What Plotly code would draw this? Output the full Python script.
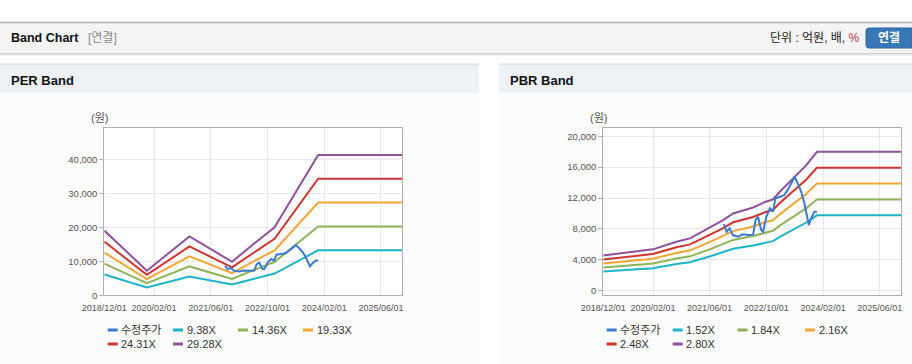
import plotly.graph_objects as go

W, H = 912, 364

def X(p):
    return p / W

def Y(p):
    return 1 - p / H

# ---------------- data ----------------
tick_dates = ["2018-12-01", "2020-02-01", "2021-06-01", "2022-10-01", "2024-02-01", "2025-06-01"]
tick_labels = ["2018/12/01", "2020/02/01", "2021/06/01", "2022/10/01", "2024/02/01", "2025/06/01"]

per_dates = ["2018-12-01", "2019-12-01", "2020-12-01", "2021-12-01", "2022-06-01",
             "2022-12-01", "2023-12-10", "2025-12-01"]
per_938 = [6097, 2317, 5544, 3161, 4803, 6407, 13226, 13226]
per_1436 = [9334, 3547, 8487, 4839, 7352, 9808, 20248, 20248]
per_1933 = [12565, 4775, 11424, 6514, 9897, 13202, 27255, 27255]
per_2431 = [15802, 6005, 14367, 8192, 12447, 16604, 34277, 34277]
per_2928 = [19032, 7232, 17304, 9867, 14991, 19998, 41285, 41285]

pbr_dates = ["2018-12-01", "2019-05-15", "2020-02-01", "2020-08-20", "2020-12-15",
             "2021-06-01", "2021-09-25", "2021-12-20", "2022-06-10", "2022-09-25",
             "2022-11-28", "2023-01-25", "2023-09-10", "2023-12-10", "2025-12-01"]
pbr_152 = [2476, 2622, 2905, 3441, 3675, 4425, 4961, 5428, 5852, 6249, 6411, 6954, 8827, 9760, 9760]
pbr_184 = [2997, 3174, 3516, 4166, 4449, 5356, 6006, 6571, 7084, 7564, 7761, 8418, 10685, 11815, 11815]
pbr_216 = [3519, 3726, 4128, 4890, 5223, 6288, 7050, 7713, 8316, 8880, 9111, 9882, 12543, 13869, 13869]
pbr_248 = [4040, 4278, 4739, 5615, 5997, 7219, 8095, 8856, 9548, 10195, 10461, 11346, 14401, 15924, 15924]
pbr_280 = [4561, 4830, 5351, 6339, 6770, 8151, 9139, 9999, 10780, 11511, 11810, 12810, 16260, 17979, 17979]

price_dates = ["2021-10-01", "2021-10-25", "2021-11-20", "2021-12-18", "2022-02-01",
               "2022-03-12", "2022-05-10", "2022-06-10", "2022-07-01", "2022-07-22",
               "2022-08-18", "2022-09-03", "2022-10-01", "2022-11-01", "2022-11-28",
               "2022-12-18", "2023-01-25", "2023-03-05", "2023-04-18", "2023-06-01",
               "2023-06-28", "2023-07-28", "2023-08-25", "2023-09-15", "2023-10-01",
               "2023-10-18", "2023-11-18", "2023-12-10"]
price_vals = [8630, 7630, 8070, 7200, 6990, 7300, 7200, 7250, 9150, 9570,
              7850, 7630, 9570, 10660, 10230, 11950, 12170, 12380, 13450, 14750,
              13890, 12810, 11300, 9570, 8500, 9250, 10220, 10220]

per_names = ["9.38X", "14.36X", "19.33X", "24.31X", "29.28X"]
pbr_names = ["1.52X", "1.84X", "2.16X", "2.48X", "2.80X"]
price_name = "수정주가"

per_ticks = [0, 10000, 20000, 30000, 40000]
per_tick_text = ["0", "10,000", "20,000", "30,000", "40,000"]
pbr_ticks = [0, 4000, 8000, 12000, 16000, 20000]
pbr_tick_text = ["0", "4,000", "8,000", "12,000", "16,000", "20,000"]

# ---------------- style ----------------
C_PRICE = "#3b7ad0"
BAND_COLORS = ["#1db4c9", "#8db458", "#f3a535", "#cf3431", "#8f519e"]
FONT = "Liberation Sans, Noto Sans CJK KR, sans-serif"
GRID = "#e8e8e8"
BOX = "#b0b0b0"

fig = go.Figure()

for vals, name, col in zip([per_938, per_1436, per_1933, per_2431, per_2928], per_names, BAND_COLORS):
    fig.add_trace(go.Scatter(x=per_dates, y=vals, name=name, mode="lines",
                             line=dict(color=col, width=2), xaxis="x", yaxis="y",
                             showlegend=False, hoverinfo="skip"))
fig.add_trace(go.Scatter(x=price_dates, y=price_vals, name=price_name, mode="lines",
                         line=dict(color=C_PRICE, width=2), xaxis="x", yaxis="y",
                         showlegend=False, hoverinfo="skip"))

for vals, name, col in zip([pbr_152, pbr_184, pbr_216, pbr_248, pbr_280], pbr_names, BAND_COLORS):
    fig.add_trace(go.Scatter(x=pbr_dates, y=vals, name=name, mode="lines",
                             line=dict(color=col, width=2), xaxis="x2", yaxis="y2",
                             showlegend=False, hoverinfo="skip"))
fig.add_trace(go.Scatter(x=price_dates, y=price_vals, name=price_name, mode="lines",
                         line=dict(color=C_PRICE, width=2), xaxis="x2", yaxis="y2",
                         showlegend=False, hoverinfo="skip"))

xcommon = dict(type="date", range=["2018-12-01", "2025-12-01"], tickmode="array",
               tickvals=tick_dates, ticktext=tick_labels, showgrid=True, gridcolor=GRID,
               gridwidth=1, showline=True, mirror=True, linecolor=BOX, linewidth=1,
               ticks="", zeroline=False, tickangle=0,
               tickfont=dict(family=FONT, size=9, color="#555"),
               ticklabelstandoff=4, fixedrange=True)
ycommon = dict(tickmode="array", showgrid=True, gridcolor=GRID, gridwidth=1,
               showline=True, mirror=True, linecolor=BOX, linewidth=1,
               ticks="outside", ticklen=4, tickcolor=BOX, zeroline=False,
               tickfont=dict(family=FONT, size=9.5, color="#555"), fixedrange=True)

pt, pb = 128.3, 295.3
fig.update_layout(
    width=W, height=H, margin=dict(l=0, r=0, t=0, b=0, autoexpand=False), autosize=False,
    paper_bgcolor="white", plot_bgcolor="white", showlegend=False,
    xaxis=dict(domain=[X(104.3), X(402.3)], anchor="y", **xcommon),
    yaxis=dict(domain=[Y(pb), Y(pt)], anchor="x", range=[0, 49100],
               tickvals=per_ticks, ticktext=per_tick_text, **ycommon),
    xaxis2=dict(domain=[X(603.3), X(901)], anchor="y2", **xcommon),
    yaxis2=dict(domain=[Y(pb), Y(pt)], anchor="x2", range=[-600, 21030],
                tickvals=pbr_ticks, ticktext=pbr_tick_text, **ycommon),
)

shapes = []

def rect(x0, y0, x1, y1, fill, line=None, lw=0):
    shapes.append(dict(type="rect", xref="paper", yref="paper", x0=X(x0), x1=X(x1),
                       y0=Y(y1), y1=Y(y0), fillcolor=fill, layer="below",
                       line=dict(color=line or fill, width=lw)))

def hline(x0, x1, y, color, w=1, layer="below"):
    shapes.append(dict(type="line", xref="paper", yref="paper", x0=X(x0), x1=X(x1),
                       y0=Y(y), y1=Y(y), line=dict(color=color, width=w), layer=layer))

# header bar
rect(0, 22, 912, 53, "#f4f4f4")
hline(0, 912, 22.5, "#b0b0b0", 1.5)
hline(0, 912, 53.5, "#cfcfcf", 1)
hline(0, 912, 54.5, "#e2e2e2", 1)
hline(0, 912, 55.5, "#f0f0f0", 1)
# panels
for (a, b) in [(0, 479), (499, 912)]:
    rect(a, 64, b, 364, "#fcfcfc")
    rect(a, 64, b, 93, "#eef2f7")
    hline(a, b, 64, "#d4d4d4", 1)
# white plot areas
rect(104.3, pt, 402.3, pb, "white")
rect(603.3, pt, 901, pb, "white")

# button
bx0, bx1, by0, by1, r = 866, 912, 28, 48, 3
path = (f"M {X(bx0 + r)},{Y(by0)} L {X(bx1)},{Y(by0)} L {X(bx1)},{Y(by1)} "
        f"L {X(bx0 + r)},{Y(by1)} Q {X(bx0)},{Y(by1)} {X(bx0)},{Y(by1 - r)} "
        f"L {X(bx0)},{Y(by0 + r)} Q {X(bx0)},{Y(by0)} {X(bx0 + r)},{Y(by0)} Z")
shapes.append(dict(type="path", xref="paper", yref="paper", path=path,
                   fillcolor="#3a77b7", line=dict(color="#2f66a0", width=1), layer="below"))

annotations = []

def text(x, y, s, size=12, color="#222", anchor="left", bold=False):
    if bold:
        s = "<b>" + s + "</b>"
    annotations.append(dict(xref="paper", yref="paper", x=X(x), y=Y(y), text=s,
                            showarrow=False, xanchor=anchor, yanchor="middle",
                            borderpad=0, borderwidth=0,
                            font=dict(family=FONT, size=size, color=color)))

text(11, 38, "Band Chart", 12.5, "#111", bold=True)
text(88, 38, "[연결]", 12, "#8a8a8a")
text(860, 38, "단위 : 억원, 배, <span style='color:#b03048'>%</span>", 12, "#222", anchor="right")
text(889, 38, "연결", 12, "white", anchor="center", bold=True)
text(11, 80, "PER Band", 13, "#111", bold=True)
text(510, 80, "PBR Band", 13, "#111", bold=True)
text(99, 118, "(원)", 11, "#555", anchor="center")
text(598, 118, "(원)", 11, "#555", anchor="center")

# custom legends
def legend(x_starts, names, colors):
    rows = [330, 344]
    for i, (nm, col) in enumerate(zip(names, colors)):
        row = i // 4
        col_i = i % 4
        x0 = x_starts[col_i]
        yy = rows[row]
        hline(x0, x0 + 10, yy, col, 3, layer="above")
        text(x0 + 13.5, yy, nm, 11, "#333")

legend([107.7, 173, 238, 303], [price_name] + per_names, [C_PRICE] + BAND_COLORS)
legend([606.7, 672.7, 737.5, 805], [price_name] + pbr_names, [C_PRICE] + BAND_COLORS)

fig.update_layout(shapes=shapes, annotations=annotations)
fig.write_html("out.html",
               config={"displayModeBar": False, "responsive": False},
               post_script=("document.body.style.margin='0px';"
                            "document.documentElement.style.overflow='hidden';"))
